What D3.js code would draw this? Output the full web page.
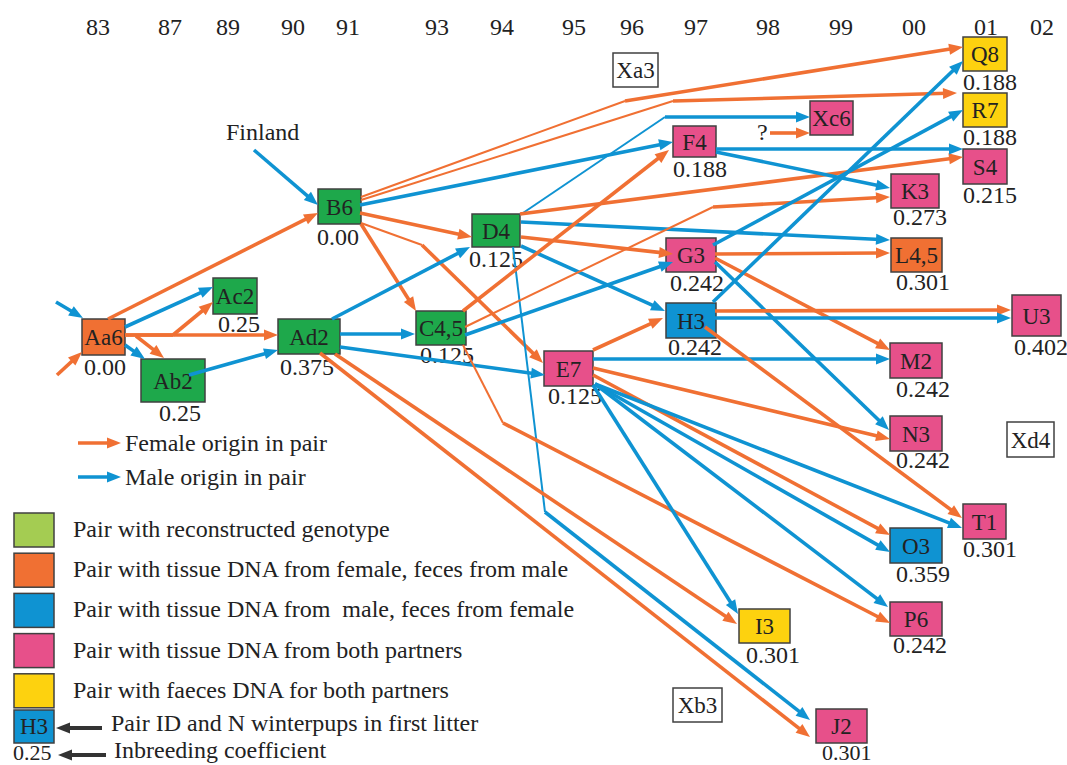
<!DOCTYPE html>
<html><head><meta charset="utf-8">
<script src="https://cdn.jsdelivr.net/npm/d3@7"></script>
<style>
body{margin:0;background:#fff}
svg{display:block}
text{font-family:"Liberation Serif","Times New Roman",serif;fill:#222}
</style></head>
<body><svg id="c" width="1067" height="765"></svg>
<script>
// ---------------- DATA ----------------
const years = ["83","87","89","90","91","93","94","95","96","97","98","99","00","01","02"];

const pairIds    = ["Aa6","Ab2","Ac2","Ad2","B6","C4,5","D4","E7","F4","G3","H3","I3","J2","K3","L4,5","M2","N3","O3","P6","Q8","R7","S4","T1","U3","Xa3","Xb3","Xc6","Xd4"];
const pairYears  = ["83","87","89","90","91","93","94","95","97","97","97","98","99","00","00","00","00","00","00","01","01","01","01","02","96","97","99","02"];
const pairTypes  = ["fem","rec","rec","rec","rec","rec","rec","both","both","both","male","faec","both","both","fem","both","both","male","both","faec","faec","both","both","both","none","none","both","none"];
const inbreeding = ["0.00","0.25","0.25","0.375","0.00","0.125","0.125","0.125","0.188","0.242","0.242","0.301","0.301","0.273","0.301","0.242","0.242","0.359","0.242","0.188","0.188","0.215","0.301","0.402","","","",""];

// parent pair -> offspring pair, origin of the offspring's founder (F female / M male)
const edgeFrom = ["Aa6","Aa6","Aa6","Aa6","Aa6","Aa6","Ab2","Finland","inM","inF",
  "B6","B6","B6","B6","B6","B6","D4","D4","D4","D4","D4","D4","Ad2","Ad2","Ad2","Ad2","Ad2",
  "C4,5","C4,5","C4,5","C4,5","E7","E7","E7","E7","E7","E7","E7","E7","F4","F4",
  "G3","G3","G3","G3","H3","H3","H3","H3","q"];
const edgeTo = ["B6","Ac2","Ac2","Ad2","Ab2","Ab2","Ad2","B6","Aa6","Aa6",
  "Q8","R7","F4","D4","C4,5","E7","Xc6","S4","L4,5","G3","H3","J2","D4","C4,5","E7","I3","J2",
  "F4","K3","G3","P6","H3","M2","N3","O3","O3","T1","P6","I3","S4","K3",
  "R7","L4,5","M2","N3","Q8","U3","U3","T1","Xc6"];
const edgeSex = ["F","M","F","F","F","M","M","M","M","F",
  "F","F","M","F","F","F","M","F","M","F","M","M","M","M","M","F","F",
  "F","F","M","F","F","M","F","F","M","M","M","M","M","M",
  "M","F","F","M","M","F","M","F","F"];

const legendTypes  = ["recL","fem","male","both","faec"];
const legendLabels = ["Pair with reconstructed genotype","Pair with tissue DNA from female, feces from male",
  "Pair with tissue DNA from \u00a0male, feces from female","Pair with tissue DNA from both partners",
  "Pair with faeces DNA for both partners"];
const originLabels = ["Female origin in pair","Male origin in pair"];

// ---------------- LAYOUT / STYLE ----------------
const yearPos = [98,170,228,293,348,437,502,574,632,696,768,841,914,986,1042];
const x = d3.scaleOrdinal().domain(years).range(yearPos);
const fill = d3.scaleOrdinal()
  .domain(["rec","recL","fem","male","both","faec","none"])
  .range(["#1ea84b","#a4cc52","#f07033","#0f93d2","#e7508a","#fdd20f","#ffffff"]);
const lineCol = {F:"#f07033", M:"#0f93d2"};

// [dx from year column, y, w, h, valueDx, valueBaselineGap]
const pairLayout = {
  "Aa6":[-16,319,43,36,2,20], "Ab2":[-29,359,64,43,18,19], "Ac2":[-15,278,44,36,5,18],
  "Ad2":[-15,319,62,35,2,21], "B6":[-30,189,43,35,-1,21], "C4,5":[-21,311,50,34,4,18],
  "D4":[-30,214,48,33,-3,20], "E7":[-30,351,49,35,4,18], "F4":[-23,126,43,31,0,20],
  "G3":[-30,238,50,34,4,19], "H3":[-30,303,50,35,2,17], "I3":[-29,609,51,34,7,20],
  "J2":[-25,709,51,34,6,17], "K3":[-23,174,48,34,2,17], "L4,5":[-23,238,51,34,5,18],
  "M2":[-24,343,52,35,6,19], "N3":[-24,416,52,35,6,17], "O3":[-24,528,52,35,6,19],
  "P6":[-24,602,52,34,3,17], "Q8":[-23,37,44,34,0,19], "R7":[-23,93,44,34,0,18],
  "S4":[-23,149,44,35,0,19], "T1":[-23,504,43,35,0,18], "U3":[-30,295,49,41,2,19],
  "Xa3":[-19,53,45,34,0,0], "Xb3":[-23,688,49,34,0,0], "Xc6":[-31,101,43,34,0,0], "Xd4":[-35,422,47,35,0,0]
};
const externalPts = {Finland:[254,150], inM:[56,302], inF:[57,375], q:[770,133]};

// per edge: [source offset, target offset, bend points, thin segment before bend]
const edgeGeom = [
  [[26,0],[0,24]], [[43,8],[0,9]], [[43,16],[0,24],[[173,335]]], [[43,16],[0,16]],
  [[54,17],[23,-1]], [[43,26],[4,0]], [[48,16],[0,31]], [[0,0],[0,16]], [[0,0],[1,-1]], [[0,0],[0,33]],
  [[43,8],[0,10],[[625,101]],true], [[43,11],[-6,0],[[673,101]],true], [[42,16],[0,16]],
  [[42,24],[0,23]], [[43,35],[0,0]], [[43,34],[-1,12],[[422,245]],true],
  [[48,1],[0,16],[[665,117]],true], [[48,0],[0,8]], [[49,8],[-1,2]], [[49,23],[7,16]],
  [[49,32],[-1,8]], [[41,33],[-6,11],[[545,512]],true],
  [[54,0],[-2,33]], [[62,15],[-1,23]], [[62,28],[1,24]], [[57,35],[-2,15]], [[42,34],[-6,28]],
  [[47,0],[-4,24]], [[49,16],[-1,23],[[713,207]],true], [[49,24],[7,24]], [[47,34],[0,21],[[503,423]],true],
  [[49,-1],[-3,15]], [[49,8],[0,16]], [[49,17],[0,23]], [[49,24],[0,7]], [[51,33],[0,24]],
  [[51,33],[-1,24]], [[51,33],[-2,5]], [[49,34],[-1,5]], [[43,23],[0,0]], [[43,26],[-1,14]],
  [[47,7],[0,17]], [[49,16],[-1,15]], [[49,20],[0,7]], [[49,24],[-1,14]],
  [[47,-1],[0,24]], [[49,8],[-1,15]], [[41,15],[-1,23]], [[39,24],[-1,14]], [[0,0],[0,32]]
];

const THICK = 3.6, THIN = 2, AL = 14, AW = 5.5;

// ---------------- DRAW ----------------
const svg = d3.select("#c");
const boxes = {};
pairIds.forEach((id,i)=>{
  const L = pairLayout[id];
  boxes[id] = {id, x:x(pairYears[i])+L[0], y:L[1], w:L[2], h:L[3], vdx:L[4], vgap:L[5], type:pairTypes[i], coef:inbreeding[i]};
});
Object.entries(externalPts).forEach(([k,p])=>{ boxes[k] = {x:p[0], y:p[1]}; });

// year axis labels
svg.append("g").selectAll("text").data(years).join("text")
  .attr("x", d=>x(d)).attr("y", 35).attr("text-anchor","middle")
  .style("font-size","24px").text(d=>d);

// boxes
const nodeG = svg.append("g");
const nodeData = pairIds.map(id=>boxes[id]);
nodeG.selectAll("rect").data(nodeData).join("rect")
  .attr("x",d=>d.x).attr("y",d=>d.y).attr("width",d=>d.w).attr("height",d=>d.h)
  .attr("fill",d=>fill(d.type)).attr("stroke","#404040").attr("stroke-width",1.5);
nodeG.selectAll("text.lab").data(nodeData).join("text").attr("class","lab")
  .attr("x",d=>d.x+d.w/2).attr("y",d=>d.y+d.h/2+8).attr("text-anchor","middle")
  .style("font-size","23px").text(d=>d.id);
nodeG.selectAll("text.val").data(nodeData.filter(d=>d.coef)).join("text").attr("class","val")
  .attr("x",d=>d.x+d.vdx).attr("y",d=>d.y+d.h+d.vgap)
  .style("font-size",d=>d.id==="J2"?"22px":"24px").text(d=>d.coef);

// external labels
svg.append("text").attr("x",226).attr("y",140).style("font-size","24px").text("Finland");
svg.append("text").attr("x",757).attr("y",140).style("font-size","24px").text("?");

// edges
const edgeG = svg.append("g");
function arrowSeg(g, p0, p1, col, w){
  const dx=p1[0]-p0[0], dy=p1[1]-p0[1], len=Math.hypot(dx,dy), ux=dx/len, uy=dy/len;
  const e=[p1[0]-ux*AL*0.7, p1[1]-uy*AL*0.7];
  g.append("path").attr("d", d3.line()([p0,e])).attr("stroke",col).attr("stroke-width",w).attr("fill","none");
  const b=[p1[0]-ux*AL, p1[1]-uy*AL];
  g.append("path").attr("d", d3.line()([p1,[b[0]-uy*AW,b[1]+ux*AW],[b[0]+uy*AW,b[1]-ux*AW]])+"Z").attr("fill",col);
}
edgeFrom.forEach((f,i)=>{
  const g = edgeGeom[i], s = boxes[f], t = boxes[edgeTo[i]];
  const p0=[s.x+g[0][0], s.y+g[0][1]], p1=[t.x+g[1][0], t.y+g[1][1]];
  const bends = g[2]||[], col = lineCol[edgeSex[i]];
  const pts = [p0, ...bends];
  if (pts.length>1){
    edgeG.append("path").attr("d", d3.line()(pts)).attr("fill","none")
      .attr("stroke",col).attr("stroke-width", g[3]?THIN:THICK).attr("stroke-linejoin","miter");
  }
  arrowSeg(edgeG, pts[pts.length-1], p1, col, THICK);
});

// legend: origin arrows
const lg = svg.append("g");
originLabels.forEach((lab,i)=>{
  const y = 443 + i*34;
  arrowSeg(lg, [78,y],[121,y], i===0?lineCol.F:lineCol.M, THICK);
  lg.append("text").attr("x",125).attr("y",y+8).style("font-size","24px").text(lab);
});
// legend: pair types
legendTypes.forEach((t,i)=>{
  const y = 513 + i*40.2;
  lg.append("rect").attr("x",14).attr("y",y).attr("width",40).attr("height",34)
    .attr("fill",fill(t)).attr("stroke","#404040").attr("stroke-width",1.5);
  lg.append("text").attr("x",73).attr("y",y+24).style("font-size","24px").text(legendLabels[i]);
});
// legend: key box
lg.append("rect").attr("x",14).attr("y",710).attr("width",40).attr("height",33)
  .attr("fill",fill("male")).attr("stroke","#404040").attr("stroke-width",1.5);
lg.append("text").attr("x",34).attr("y",734).attr("text-anchor","middle").style("font-size","23px").text("H3");
lg.append("text").attr("x",13).attr("y",760).style("font-size","22px").text("0.25");
const K="#333";
arrowSeg(lg,[102,728],[56,728],K,4);
arrowSeg(lg,[106,755],[58,755],K,4);
lg.append("text").attr("x",111).attr("y",731).style("font-size","24px").text("Pair ID and N winterpups in first litter");
lg.append("text").attr("x",114).attr("y",758).style("font-size","24px").text("Inbreeding coefficient");
</script>
</body></html>
